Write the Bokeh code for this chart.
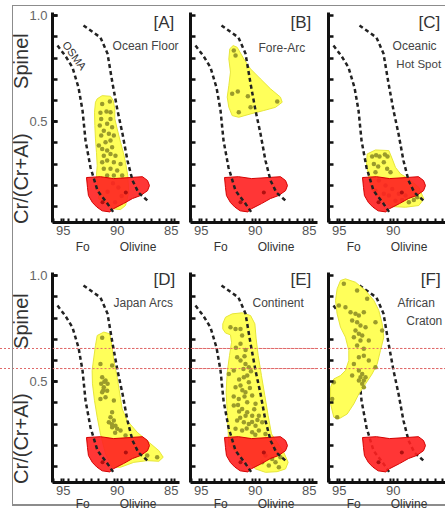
from bokeh.plotting import figure
from bokeh.layouts import row, column
from bokeh.models import Range1d, FixedTicker, Label, NumeralTickFormatter, Span
from bokeh.embed import file_html
from bokeh.resources import INLINE

# ---------------- data ----------------
fo_tick_labels = [95, 90, 85]
cr_tick_labels = [0.5, 1.0]
cr_minor = [0.1, 0.2, 0.3, 0.4, 0.5, 0.6, 0.7, 0.8, 0.9, 1.0]
fo_minor = [95.9, 95.2, 94.5, 93.8, 93.1, 92.4, 91.7, 91.0, 90.3, 89.6, 88.9, 88.2, 87.5, 86.8, 86.1, 85.4, 84.7]

# olivine-spinel mantle array (two dashed bounds)
osma_left_fo = [95.54, 94.80, 94.15, 93.59, 93.22, 92.94, 92.48, 91.83, 90.91, 90.35]
osma_left_cr = [0.859, 0.81, 0.756, 0.661, 0.553, 0.411, 0.284, 0.175, 0.114, 0.072]
osma_right_fo = [93.13, 91.56, 90.91, 90.44, 89.98, 89.52, 89.06, 88.59, 88.04, 87.20]
osma_right_cr = [0.954, 0.897, 0.822, 0.680, 0.553, 0.444, 0.317, 0.223, 0.166, 0.128]

# red reference field (same in all panels)
red_fo = [92.85, 91.56, 90.35, 88.78, 87.67, 87.20, 87.02, 87.20, 87.85, 88.59, 89.43, 90.35, 90.70, 91.40, 91.90, 92.30, 92.67, 92.76]
red_cr = [0.237, 0.241, 0.232, 0.237, 0.241, 0.223, 0.199, 0.175, 0.152, 0.138, 0.114, 0.090, 0.075, 0.080, 0.098, 0.119, 0.152, 0.190]
red_dot_fo = [89.21, 91.37]
red_dot_cr = [0.167, 0.120]

# [A] Ocean Floor
fieldA_fo = [91.86, 91.40, 90.63, 90.38, 90.23, 90.23, 90.01, 89.70, 89.45, 89.24, 89.03, 88.94, 89.24, 89.70, 90.32, 91.71, 91.93, 91.86, 91.93, 92.02, 92.08, 92.11, 92.02]
fieldA_cr = [0.608, 0.623, 0.620, 0.600, 0.561, 0.514, 0.466, 0.403, 0.356, 0.309, 0.246, 0.167, 0.105, 0.086, 0.089, 0.136, 0.246, 0.293, 0.356, 0.419, 0.482, 0.545, 0.592]
dotsA_fo = [91.40, 90.69, 91.56, 91.00, 90.63, 91.49, 90.63, 91.62, 90.94, 90.48, 91.25, 91.49, 90.78, 90.32, 91.71, 91.09, 90.63, 91.40, 90.94, 90.48, 91.25, 90.63, 90.17, 91.40, 90.94, 90.32, 89.70, 91.25, 90.63, 90.01, 89.55, 90.94, 90.32, 90.4, 89.9, 90.9, 89.6, 90.2]
dotsA_cr = [0.584, 0.595, 0.542, 0.548, 0.545, 0.513, 0.513, 0.482, 0.490, 0.474, 0.458, 0.435, 0.443, 0.435, 0.388, 0.403, 0.411, 0.372, 0.364, 0.380, 0.340, 0.348, 0.340, 0.309, 0.317, 0.309, 0.301, 0.278, 0.278, 0.270, 0.246, 0.246, 0.246, 0.21, 0.19, 0.17, 0.15, 0.12]

# [B] Fore-Arc
fieldB_fo = [92.05, 91.68, 91.06, 90.44, 89.52, 88.59, 87.67, 87.51, 88.13, 89.21, 90.44, 91.53, 92.14, 92.45, 92.60, 92.45, 92.30, 92.45, 92.36]
fieldB_cr = [0.859, 0.851, 0.796, 0.749, 0.702, 0.655, 0.616, 0.592, 0.568, 0.553, 0.537, 0.521, 0.529, 0.568, 0.616, 0.671, 0.734, 0.796, 0.844]
dotsB_fo = [91.99, 91.83, 92.14, 91.62, 90.69, 90.44, 91.53, 87.97]
dotsB_cr = [0.836, 0.812, 0.632, 0.642, 0.620, 0.568, 0.545, 0.595]

# [C] Oceanic Hot Spot
fieldC_fo = [92.42, 91.65, 90.41, 90.10, 89.80, 89.33, 88.56, 87.64, 87.17, 87.64, 88.87, 90.10, 91.03, 91.96, 92.27, 92.48]
fieldC_cr = [0.348, 0.367, 0.364, 0.325, 0.285, 0.254, 0.230, 0.191, 0.136, 0.105, 0.097, 0.100, 0.128, 0.175, 0.238, 0.301]
dotsC_fo = [91.96, 91.59, 91.28, 90.78, 90.54, 91.80, 91.40, 90.88, 90.57, 91.65, 90.26, 91.34, 90.72, 90.10, 89.49, 90.88, 91.65, 90.41, 89.80, 89.18, 88.56, 88.10, 87.79, 88.87]
dotsC_cr = [0.336, 0.342, 0.336, 0.345, 0.336, 0.301, 0.289, 0.309, 0.278, 0.262, 0.262, 0.223, 0.199, 0.183, 0.160, 0.160, 0.175, 0.152, 0.128, 0.131, 0.120, 0.131, 0.144, 0.152]

# [D] Japan Arcs
fieldD_fo = [91.86, 91.25, 90.69, 90.48, 90.32, 90.01, 89.77, 89.55, 89.09, 88.16, 87.08, 86.15, 85.75, 86.15, 87.23, 88.47, 89.70, 90.48, 91.09, 91.56, 91.86, 92.11, 92.30, 92.33, 92.17, 92.02]
fieldD_cr = [0.718, 0.734, 0.726, 0.663, 0.600, 0.521, 0.443, 0.372, 0.317, 0.262, 0.215, 0.175, 0.144, 0.125, 0.128, 0.120, 0.097, 0.097, 0.160, 0.254, 0.333, 0.411, 0.490, 0.553, 0.616, 0.671]
dotsD_fo = [91.40, 91.56, 90.48, 91.40, 91.09, 91.49, 91.25, 90.94, 91.40, 91.56, 91.09, 90.32, 90.48, 90.63, 90.32, 90.78, 90.17, 90.01, 90.48, 89.70, 89.24, 87.23, 86.31, 91.2, 91.3, 90.9, 90.5, 90.2]
dotsD_cr = [0.707, 0.584, 0.576, 0.521, 0.506, 0.490, 0.474, 0.458, 0.450, 0.419, 0.427, 0.411, 0.356, 0.333, 0.317, 0.309, 0.293, 0.278, 0.285, 0.270, 0.246, 0.152, 0.144, 0.500, 0.460, 0.490, 0.300, 0.260]

# [E] Continent
fieldE_fo = [93.01, 92.76, 92.14, 91.22, 90.44, 90.04, 89.92, 89.73, 89.43, 89.12, 88.81, 88.50, 87.36, 86.96, 87.20, 87.98, 89.06, 89.98, 90.60, 92.45, 92.51, 92.60, 92.70, 92.60, 92.39, 92.20, 92.30, 92.76, 93.01]
fieldE_cr = [0.773, 0.804, 0.820, 0.825, 0.812, 0.773, 0.702, 0.623, 0.529, 0.435, 0.340, 0.254, 0.167, 0.120, 0.089, 0.076, 0.073, 0.089, 0.120, 0.199, 0.262, 0.356, 0.450, 0.545, 0.623, 0.686, 0.721, 0.730, 0.749]
dotsE_fo = [92.30, 91.83, 91.37, 91.22, 91.37, 91.68, 91.37, 90.91, 90.60, 92.45, 91.99, 91.06, 90.75, 90.60, 91.83, 91.37, 90.91, 90.29, 91.53, 90.75, 89.98, 91.99, 91.22, 90.75, 90.29, 89.67, 91.68, 91.06, 90.60, 89.98, 89.36, 91.83, 91.22, 90.29, 89.67, 89.06, 89.06, 88.44, 88.13, 87.67, 88.75, 87.82, 89.36, 91.1, 90.4, 91.5, 91.2, 90.5, 91.0, 91.6, 90.1, 90.9, 91.4, 90.3, 89.8, 91.5, 92.0, 90.8, 90.0, 91.0, 91.8, 90.9]
dotsE_cr = [0.757, 0.749, 0.749, 0.718, 0.679, 0.616, 0.600, 0.584, 0.568, 0.537, 0.553, 0.521, 0.529, 0.498, 0.474, 0.482, 0.450, 0.435, 0.419, 0.403, 0.396, 0.388, 0.372, 0.356, 0.340, 0.340, 0.317, 0.309, 0.301, 0.293, 0.309, 0.278, 0.270, 0.262, 0.270, 0.254, 0.152, 0.136, 0.120, 0.144, 0.105, 0.097, 0.120, 0.560, 0.550, 0.510, 0.460, 0.470, 0.430, 0.390, 0.370, 0.340, 0.330, 0.310, 0.320, 0.360, 0.430, 0.280, 0.250, 0.620, 0.660, 0.650]

# [F] African Craton
fieldF_fo = [94.89, 94.43, 93.50, 92.57, 91.80, 91.34, 91.03, 90.88, 91.19, 91.49, 91.96, 92.57, 93.19, 93.65, 94.27, 95.04, 95.51, 95.81, 95.81, 95.51, 94.89, 94.43, 94.12, 94.12, 94.43, 94.89, 95.20, 95.35, 95.20]
fieldF_cr = [0.977, 0.985, 0.969, 0.930, 0.883, 0.836, 0.773, 0.710, 0.647, 0.584, 0.537, 0.490, 0.443, 0.396, 0.348, 0.325, 0.333, 0.396, 0.474, 0.513, 0.529, 0.553, 0.600, 0.647, 0.710, 0.757, 0.820, 0.883, 0.938]
dotsF_fo = [94.58, 93.35, 92.42, 95.04, 94.43, 93.96, 93.50, 93.19, 92.73, 93.81, 93.35, 93.04, 92.57, 91.65, 91.03, 93.50, 93.19, 92.88, 93.65, 93.04, 92.27, 93.35, 92.73, 93.19, 92.73, 92.27, 91.65, 93.65, 93.19, 92.88, 93.04, 92.57, 93.19, 92.88, 92.73, 93.81, 95.51, 95.66, 95.20, 92.73]
dotsF_cr = [0.962, 0.930, 0.891, 0.859, 0.851, 0.828, 0.820, 0.812, 0.828, 0.789, 0.781, 0.765, 0.757, 0.781, 0.741, 0.741, 0.726, 0.718, 0.710, 0.694, 0.694, 0.671, 0.655, 0.616, 0.623, 0.600, 0.568, 0.584, 0.553, 0.537, 0.521, 0.521, 0.506, 0.490, 0.506, 0.529, 0.498, 0.419, 0.333, 0.474]

# ---------------- styling / layout ----------------
NB = "\u00a0"
Y_TITLE = "Cr/(Cr+Al)" + NB * 8 + "Spinel" + NB * 4
X_TITLE = "Fo" + NB * 9 + "Olivine"
FONT = "Liberation Sans"
PX_PER_FO = 10.8
YELLOW = "#ffff5a"
DOT = "#9b9b2b"
RED = "#ff2020"
GUIDE = "#e06a6a"


def make_panel(width, height, frame_px, left, right, top, bottom, first_col, row1,
               field_fo, field_cr, dots_fo, dots_cr, curves_under=False):
    x_end = 96.0 - frame_px / PX_PER_FO
    p = figure(width=width, height=height, x_range=Range1d(96.0, x_end),
               y_range=Range1d(0.025, 1.015), output_backend="svg",
               toolbar_location=None, tools="",
               min_border_left=left, min_border_right=right,
               min_border_top=top, min_border_bottom=bottom)
    p.outline_line_color = None
    p.grid.visible = False
    p.background_fill_alpha = 0
    p.border_fill_alpha = 0

    xa = p.xaxis[0]
    xa.ticker = FixedTicker(ticks=fo_tick_labels, minor_ticks=fo_minor)
    xa.axis_line_width = 3
    xa.axis_line_color = "#111111"
    xa.major_tick_in = 4
    xa.major_tick_out = 0
    xa.minor_tick_in = 4
    xa.minor_tick_out = 0
    xa.major_tick_line_width = 2
    xa.minor_tick_line_width = 2
    xa.major_tick_line_color = "#111111"
    xa.minor_tick_line_color = "#111111"
    xa.major_label_text_font = FONT
    xa.major_label_text_font_size = "13px"
    xa.major_label_text_color = "#555555"
    xa.major_label_standoff = 3
    xa.axis_label = X_TITLE
    xa.axis_label_text_font = FONT
    xa.axis_label_text_font_size = "12px"
    xa.axis_label_text_font_style = "normal"
    xa.axis_label_text_color = "#333333"
    xa.axis_label_standoff = 2 if row1 else -1

    ya = p.yaxis[0]
    ya.ticker = FixedTicker(ticks=cr_tick_labels if first_col else [], minor_ticks=cr_minor)
    ya.formatter = NumeralTickFormatter(format="0.0")
    ya.axis_line_width = 3
    ya.axis_line_color = "#111111"
    ya.major_tick_in = 5
    ya.major_tick_out = 0
    ya.minor_tick_in = 5
    ya.minor_tick_out = 0
    ya.major_tick_line_width = 2.5
    ya.minor_tick_line_width = 2.5
    ya.major_tick_line_color = "#111111"
    ya.minor_tick_line_color = "#111111"
    ya.major_label_text_font = FONT
    ya.major_label_text_font_size = "13px"
    ya.major_label_text_color = "#666666"
    ya.major_label_standoff = 5 if first_col else 0
    if first_col:
        ya.axis_label = Y_TITLE
        ya.axis_label_text_font = FONT
        ya.axis_label_text_font_size = "20px"
        ya.axis_label_text_font_style = "normal"
        ya.axis_label_text_color = "#333333"
        ya.axis_label_standoff = -6

    def curves():
        p.line(osma_left_fo, osma_left_cr, line_color="#222222", line_width=2.5, line_dash="4 3")
        p.line(osma_right_fo, osma_right_cr, line_color="#222222", line_width=2.5, line_dash="4 3")

    if curves_under:
        curves()
    p.patch(field_fo, field_cr, fill_color=YELLOW, line_color="#e6e63a", line_width=1)
    p.scatter(dots_fo, dots_cr, size=4.5, fill_color=DOT, line_color=None)
    p.patch(red_fo, red_cr, fill_color=RED, fill_alpha=0.9, line_color="#d40000", line_width=1)
    p.scatter(red_dot_fo, red_dot_cr, size=4, fill_color="#b01010", line_color=None)
    if not curves_under:
        curves()
    if not row1:
        # thin red dotted guide lines that cross the lower row
        for loc in (0.657, 0.562):
            p.add_layout(Span(location=loc, dimension="width", line_color=GUIDE,
                              line_width=1, line_dash="2 2"))
    return p


def add_text(p, x, y, text, size, align="left", baseline="middle", color="#444444", angle=0.0):
    p.add_layout(Label(x=x, y=y, text=text, text_font=FONT, text_font_size=size,
                       text_color=color, text_align=align, text_baseline=baseline,
                       angle=angle))


H1, H2 = 268, 245
pA = make_panel(186, H1, 127, 52, 7, 12, 46, True, True, fieldA_fo, fieldA_cr, dotsA_fo, dotsA_cr)
pB = make_panel(138, H1, 127, 4, 7, 12, 46, False, True, fieldB_fo, fieldB_cr, dotsB_fo, dotsB_cr)
pC = make_panel(121, H1, 117, 4, 0, 12, 46, False, True, fieldC_fo, fieldC_cr, dotsC_fo, dotsC_cr)
pD = make_panel(186, H2, 127, 52, 7, 4, 31, True, False, fieldD_fo, fieldD_cr, dotsD_fo, dotsD_cr)
pE = make_panel(138, H2, 127, 4, 7, 4, 31, False, False, fieldE_fo, fieldE_cr, dotsE_fo, dotsE_cr)
pF = make_panel(121, H2, 117, 4, 0, 4, 31, False, False, fieldF_fo, fieldF_cr, dotsF_fo, dotsF_cr,
                curves_under=True)

# panel letters
add_text(pA, 86.65, 1.015, "[A]", "17px", baseline="top", color="#333333")
add_text(pB, 86.74, 1.015, "[B]", "17px", baseline="top", color="#333333")
add_text(pC, 87.67, 1.015, "[C]", "17px", baseline="top", color="#333333")
add_text(pD, 86.65, 1.029, "[D]", "17px", baseline="top", color="#333333")
add_text(pE, 86.74, 1.029, "[E]", "17px", baseline="top", color="#333333")
add_text(pF, 87.45, 1.029, "[F]", "17px", baseline="top", color="#333333")

# panel captions
add_text(pA, 90.44, 0.859, "Ocean Floor", "12px")
add_text(pB, 89.70, 0.850, "Fore-Arc", "12px")
add_text(pC, 90.07, 0.859, "Oceanic", "12px")
add_text(pC, 89.72, 0.774, "Hot Spot", "11.5px")
add_text(pD, 90.35, 0.869, "Japan Arcs", "12px")
add_text(pE, 90.26, 0.869, "Continent", "12px")
add_text(pF, 89.61, 0.873, "African", "12px")
add_text(pF, 88.80, 0.788, "Craton", "12px")

# OSMA label along the left bound
add_text(pA, 93.96, 0.812, "OSMA", "11px", align="center", color="#333333", angle=-0.94)

bg_styles = {
    "background-color": "white",
    "background-image": ", ".join([
        "linear-gradient(#8c8c8c, #8c8c8c)",
        "linear-gradient(#8c8c8c, #8c8c8c)",
        "linear-gradient(#8c8c8c, #8c8c8c)",
        "repeating-linear-gradient(to right, %s 0px, %s 2px, transparent 2px, transparent 4px)" % (GUIDE, GUIDE),
        "repeating-linear-gradient(to right, %s 0px, %s 2px, transparent 2px, transparent 4px)" % (GUIDE, GUIDE),
    ]),
    "background-size": "1px 500px, 433px 1px, 433px 2px, 445px 1px, 445px 1px",
    "background-position": "12px 5px, 12px 5px, 12px 504px, 0px 348px, 0px 368px",
    "background-repeat": "no-repeat",
}

layout = column(row(pA, pB, pC), row(pD, pE, pF), styles=bg_styles)

with open("out.html", "w") as f:
    f.write(file_html(layout, INLINE))
